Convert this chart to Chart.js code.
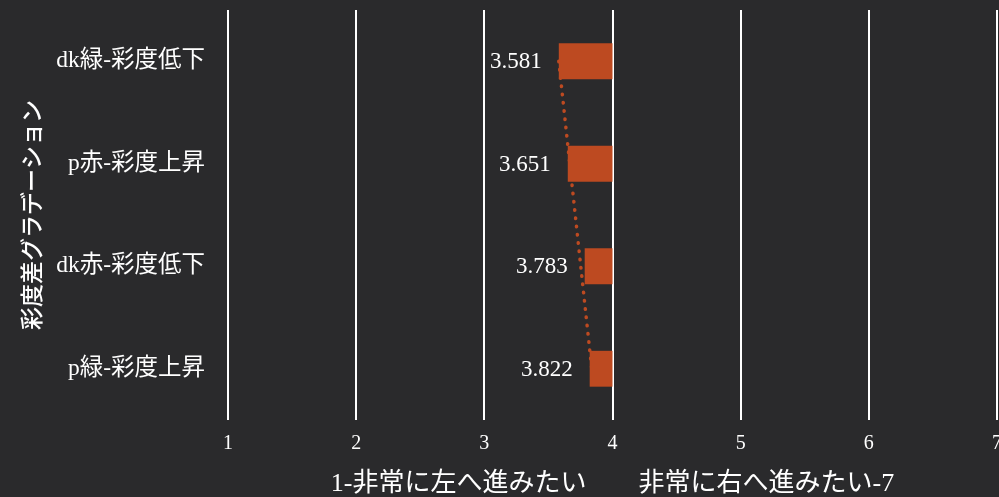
<!DOCTYPE html>
<html>
<head>
<meta charset="utf-8">
<script src="https://cdn.jsdelivr.net/npm/chart.js@4.4.1/dist/chart.umd.min.js"></script>
<style>
  html, body { margin: 0; padding: 0; background: #2a2a2c; overflow: hidden; }
  #wrap { width: 999px; height: 497px; position: relative; }
</style>
</head>
<body>
<div id="wrap"><canvas id="satChart"></canvas></div>
<script>
// chart data
const categories = ['dk緑-彩度低下', 'p赤-彩度上昇', 'dk赤-彩度低下', 'p緑-彩度上昇'];
const values = [3.581, 3.651, 3.783, 3.822];
const baseline = 4;
// linear trendline ends
const trendline = [3.581, null, null, 3.838];
const xTicks = [1, 2, 3, 4, 5, 6, 7];

const xTitle = '1-非常に左へ進みたい\u3000\u3000非常に右へ進みたい-7';
const yTitle = '彩度差グラデーション';

const serifJP = "'Liberation Serif', 'Noto Sans CJK JP'";
const sansJP = "'Noto Sans CJK JP'";
const barColor = '#bd4a21';

const bgPlugin = {
    id: 'bg',
    beforeDraw(chart) {
        const ctx = chart.ctx;
        ctx.save();
        ctx.fillStyle = '#2a2a2c';
        ctx.fillRect(0, 0, chart.width, chart.height);
        ctx.restore();
    }
};

// value labels to the left of each bar
const valueLabels = {
    id: 'valueLabels',
    afterDatasetsDraw(chart) {
        const meta = chart.getDatasetMeta(1);
        const ctx = chart.ctx;
        ctx.save();
        ctx.fillStyle = '#ffffff';
        ctx.font = "23px " + serifJP;
        ctx.textAlign = 'right';
        ctx.textBaseline = 'middle';
        meta.data.forEach((bar, i) => {
            const left = Math.min(bar.x, bar.base);
            ctx.fillText(values[i].toFixed(3), left - 17, bar.y + 1);
        });
        ctx.restore();
    }
};

new Chart(document.getElementById('satChart'), {
    type: 'bar',
    data: {
        labels: categories,
        datasets: [
            {
                type: 'line',
                indexAxis: 'y',
                data: trendline,
                spanGaps: true,
                borderColor: barColor,
                borderWidth: 3.5,
                borderDash: [0.5, 7.8],
                borderCapStyle: 'round',
                pointRadius: 0,
                fill: false,
                order: 2
            },
            {
                data: values.map(v => [v, baseline]),
                backgroundColor: barColor,
                borderWidth: 0,
                barPercentage: 0.35,
                categoryPercentage: 1,
                order: 1
            }
        ]
    },
    options: {
        indexAxis: 'y',
        responsive: true,
        maintainAspectRatio: false,
        animation: false,
        devicePixelRatio: 1,
        layout: { padding: { top: 10, left: 17, right: 2, bottom: 0 } },
        plugins: {
            legend: { display: false },
            tooltip: { enabled: false }
        },
        scales: {
            x: {
                type: 'linear',
                min: 1,
                max: 7,
                afterBuildTicks: (axis) => { axis.ticks = xTicks.map(v => ({ value: v })); },
                afterFit: (s) => { s.paddingLeft = 0; s.paddingRight = 0; },
                ticks: {
                    color: '#ffffff',
                    font: { family: serifJP, size: 20 },
                    padding: 12
                },
                grid: {
                    color: '#ffffff',
                    lineWidth: 2,
                    drawTicks: false
                },
                border: { display: false },
                title: {
                    display: true,
                    text: xTitle,
                    color: '#ffffff',
                    font: { family: serifJP, size: 26, lineHeight: 1 },
                    padding: { top: 3, bottom: 0 }
                }
            },
            y: {
                afterFit: (s) => { s.paddingTop = 0; s.paddingBottom = 0; s.width = 211; },
                grid: { display: false },
                border: { display: false },
                ticks: {
                    color: '#ffffff',
                    font: { family: serifJP, size: 23.5 },
                    padding: 15
                },
                title: {
                    display: true,
                    text: yTitle,
                    color: '#ffffff',
                    font: { family: sansJP, size: 23, weight: '500' },
                    padding: { top: 0, bottom: 0 }
                }
            }
        }
    },
    plugins: [bgPlugin, valueLabels]
});
</script>
</body>
</html>
